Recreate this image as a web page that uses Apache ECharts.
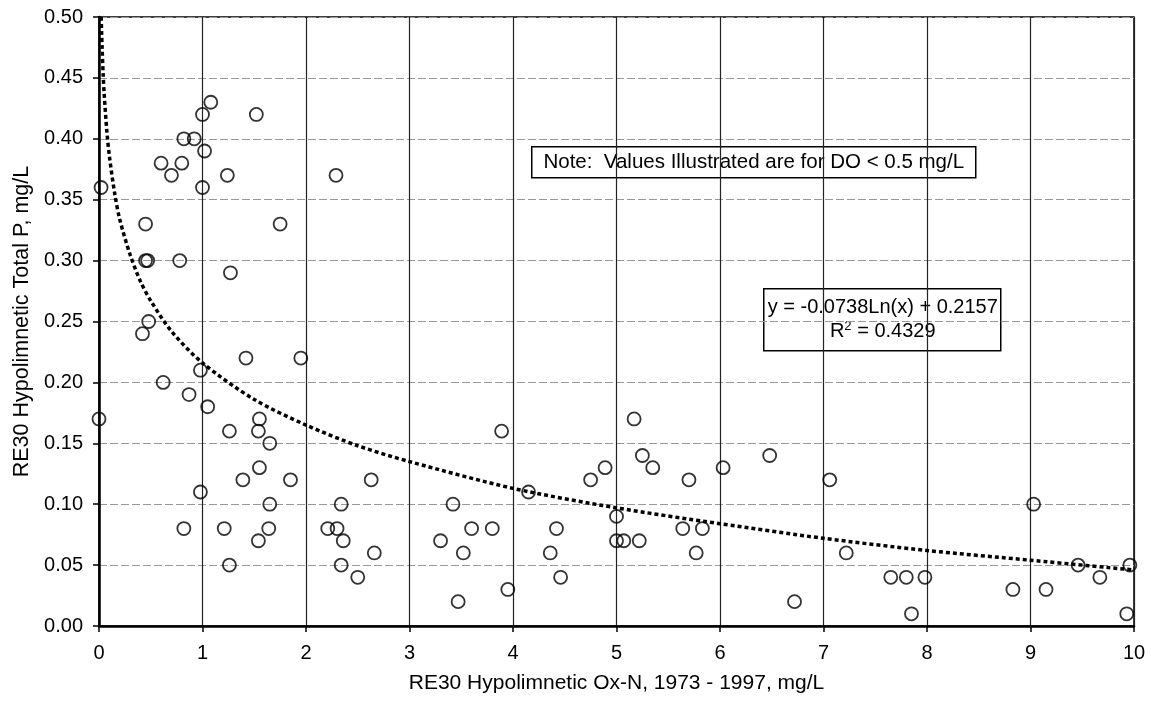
<!DOCTYPE html>
<html><head><meta charset="utf-8">
<script src="https://cdn.jsdelivr.net/npm/echarts@6/dist/echarts.min.js"></script>
<style>html,body{margin:0;padding:0;background:#fff}#c{width:1151px;height:702px}</style>
</head><body><div id="c"></div>
<script>
// Observed data: [Ox-N (mg/L), Total P (mg/L)]
const oxN = [0.00,0.02,0.42,0.45,0.45,0.47,0.48,0.60,0.62,0.70,0.78,0.80,0.82,0.82,0.87,0.92,0.98,0.98,1.00,1.00,1.02,1.05,1.08,1.21,1.24,1.26,1.26,1.27,1.39,1.42,1.52,1.54,1.54,1.55,1.55,1.64,1.65,1.65,1.75,1.85,1.95,2.21,2.29,2.30,2.34,2.34,2.36,2.50,2.63,2.66,3.30,3.42,3.47,3.52,3.60,3.80,3.89,3.95,4.15,4.36,4.42,4.46,4.75,4.89,5.00,5.00,5.07,5.17,5.22,5.25,5.35,5.64,5.70,5.77,5.83,6.03,6.48,6.72,7.06,7.22,7.65,7.80,7.85,7.98,8.83,9.03,9.15,9.46,9.67,9.93,9.96];
const totalP = [0.17,0.36,0.24,0.33,0.30,0.30,0.25,0.38,0.20,0.37,0.30,0.38,0.40,0.08,0.19,0.40,0.21,0.11,0.42,0.36,0.39,0.18,0.43,0.08,0.37,0.16,0.05,0.29,0.12,0.22,0.42,0.16,0.07,0.17,0.13,0.08,0.15,0.10,0.33,0.12,0.22,0.08,0.37,0.08,0.10,0.05,0.07,0.04,0.12,0.06,0.07,0.10,0.02,0.06,0.08,0.08,0.16,0.03,0.11,0.06,0.08,0.04,0.12,0.13,0.09,0.07,0.07,0.17,0.07,0.14,0.13,0.08,0.12,0.06,0.08,0.13,0.14,0.02,0.12,0.06,0.04,0.04,0.01,0.04,0.03,0.10,0.03,0.05,0.04,0.01,0.05];
// Trend curve
const trendX = [0.021,0.025,0.03,0.04,0.05,0.075,0.1,0.15,0.2,0.3,0.4,0.5,0.7,1,1.5,2,2.5,3,4,5,6,7,8,9,10];
const trendY = [0.500,0.488,0.475,0.453,0.437,0.407,0.386,0.356,0.334,0.305,0.283,0.267,0.242,0.216,0.186,0.165,0.148,0.135,0.113,0.097,0.084,0.072,0.062,0.054,0.046];
const xTicks = [0,1,2,3,4,5,6,7,8,9,10];
const yTicks = ['0.00','0.05','0.10','0.15','0.20','0.25','0.30','0.35','0.40','0.45','0.50'];
const xName = 'RE30 Hypolimnetic Ox-N, 1973 - 1997, mg/L';
const yName = 'RE30 Hypolimnetic Total P, mg/L';
const noteText = 'Note:  Values Illustrated are for DO < 0.5 mg/L';
const eqText = 'y = -0.0738Ln(x) + 0.2157';
const r2Text = '0.4329';

const font = 'Liberation Sans, Arial, sans-serif';
const chart = echarts.init(document.getElementById('c'), null, {renderer:'canvas'});
chart.setOption({
  animation:false,
  backgroundColor:'#fff',
  grid:{left:99,right:17,top:17,bottom:76,show:true,borderColor:'#000',borderWidth:1.5},
  xAxis:{type:'value',min:0,max:10,interval:1,
    name:xName,nameLocation:'middle',nameGap:47,
    nameTextStyle:{fontFamily:font,fontSize:21,color:'#000'},
    axisLine:{show:true,onZero:false,lineStyle:{color:'#000',width:2.5}},
    axisTick:{show:true,length:6,lineStyle:{color:'#000',width:1.5}},
    axisLabel:{fontFamily:font,fontSize:20,color:'#000',margin:17,formatter:v=>String(xTicks[Math.round(v)])},
    splitLine:{show:true,lineStyle:{color:'#222',width:1.2}}},
  yAxis:{type:'value',min:0,max:0.5,interval:0.05,
    name:yName,nameLocation:'middle',nameGap:63,
    nameTextStyle:{fontFamily:font,fontSize:21.5,color:'#000'},
    axisLine:{show:true,onZero:false,lineStyle:{color:'#000',width:2.5}},
    axisTick:{show:true,length:6,lineStyle:{color:'#000',width:1.5}},
    axisLabel:{fontFamily:font,fontSize:20,color:'#000',margin:16,formatter:v=>yTicks[Math.round(v/0.05)]},
    splitLine:{show:true,lineStyle:{color:'#999',width:1.2,type:[8,3]}}},
  series:[
    {type:'line',data:trendX.map((x,i)=>[x,trendY[i]]),smooth:0.3,symbol:'none',
     lineStyle:{color:'#000',width:3.5,type:[4,3]},z:3},
    {type:'scatter',data:oxN.map((x,i)=>[x,totalP[i]]),symbol:'circle',symbolSize:13,
     itemStyle:{color:'rgba(255,255,255,0)',borderColor:'#000',borderWidth:1.8},z:4}
  ],
  graphic:[
    {type:'group',left:531,top:146,children:[
      {type:'rect',shape:{x:0,y:0,width:444,height:31},style:{fill:'#fff',stroke:'#000',lineWidth:1.5}},
      {type:'text',x:222,y:16,style:{text:noteText,font:'20.5px '+font,fill:'#000',align:'center',verticalAlign:'middle'}}
    ]},
    {type:'group',left:763,top:288,children:[
      {type:'rect',shape:{x:0,y:0,width:237,height:62},style:{fill:'#fff',stroke:'#000',lineWidth:1.5}},
      {type:'text',x:119,y:19,style:{text:eqText,font:'20px '+font,fill:'#000',align:'center',verticalAlign:'middle'}},
      {type:'text',x:119,y:43,style:{text:'{a|R}{s|2}{a| = '+r2Text+'}',align:'center',verticalAlign:'middle',
        rich:{a:{fontFamily:font,fontSize:20,color:'#000'},s:{fontFamily:font,fontSize:13,color:'#000',verticalAlign:'top',padding:[0,0,10,0]}}}}
    ]}
  ]
});
</script></body></html>
